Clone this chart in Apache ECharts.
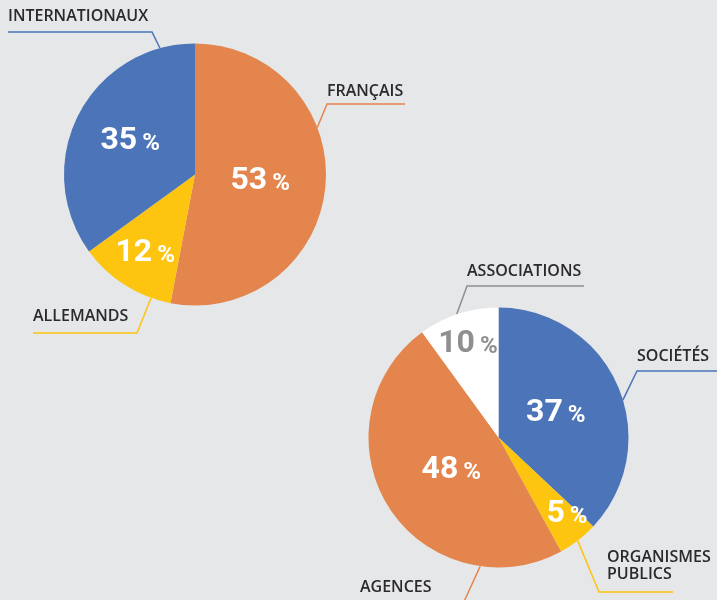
<!DOCTYPE html>
<html lang="fr">
<head>
<meta charset="UTF-8">
<title>Répartition</title>
<script src="https://cdn.jsdelivr.net/npm/echarts@6/dist/echarts.min.js"></script>
<style>
  html, body { margin: 0; padding: 0; background: #e6e7e9; }
  #chart { width: 717px; height: 600px; }
</style>
</head>
<body>
<div id="chart"></div>
<script>
// origine des visiteurs
const origineNoms = ['FRANÇAIS', 'ALLEMANDS', 'INTERNATIONAUX'];
const origineParts = [53, 12, 35];
// type d'exposants
const typeNoms = ['SOCIÉTÉS', 'ORGANISMES PUBLICS', 'AGENCES', 'ASSOCIATIONS'];
const typeParts = [37, 5, 48, 10];

const BLEU = '#4b74b9', ORANGE = '#e3854c', JAUNE = '#fdc50f', BLANC = '#ffffff', GRIS = '#8f8f8f';
const origineCouleurs = [ORANGE, JAUNE, BLEU];
const typeCouleurs = [BLEU, JAUNE, ORANGE, BLANC];

// position des camemberts (px)
const pies = [
    { center: [195, 174.5], r: 131 },
    { center: [498.5, 437.5], r: 130 }
];

// pourcentages : distance au centre (fraction du rayon) et décalage d'angle (degrés)
const origineRayonTexte = [0.5, 0.71, 0.555];
const origineDecalage = [0, 0, 0];
const typeRayonTexte = [0.48, 0.79, 0.44, 0.76];
const typeDecalage = [0, -4, -2, 0];

// étiquettes extérieures : angle du départ sur le bord, coude, fin du trait, position du texte
const origineGuides = [
    { angle: 69, elbow: [327, 104], end: [405, 104], text: [327, 91], color: ORANGE },
    { angle: 199.6, elbow: [137, 333], end: [33, 333], text: [33, 316], color: JAUNE },
    { angle: 344.5, elbow: [152, 32], end: [8, 32], text: [8, 16.5], color: BLEU }
];
const typeGuides = [
    { angle: 73.2, elbow: [637, 371], end: [717, 371], text: [637, 356], color: BLEU },
    { angle: 142.5, elbow: [599, 592], end: [673, 592], text: [607, 566], color: JAUNE },
    { angle: 188.1, elbow: [462, 606], end: [360, 606], text: [360, 587.5], color: ORANGE },
    { angle: 341.2, elbow: [467, 286], end: [584, 286], text: [467, 271], color: GRIS }
];

function innerLayout(k, values, factors, offsets) {
    const total = values.reduce((a, b) => a + b, 0);
    return function (params) {
        const i = params.dataIndex;
        let before = 0;
        for (let j = 0; j < i; j++) before += values[j];
        const mid = (before + values[i] / 2) / total * Math.PI * 2 + offsets[i] * Math.PI / 180;
        const rr = pies[k].r * factors[i];
        return {
            x: pies[k].center[0] + rr * Math.sin(mid),
            y: pies[k].center[1] - rr * Math.cos(mid),
            align: 'center',
            verticalAlign: 'middle'
        };
    };
}

function outerLayout(k, guides) {
    return function (params) {
        const g = guides[params.dataIndex];
        const a = g.angle * Math.PI / 180;
        const edge = [pies[k].center[0] + pies[k].r * Math.sin(a), pies[k].center[1] - pies[k].r * Math.cos(a)];
        return {
            x: g.text[0],
            y: g.text[1],
            align: 'left',
            verticalAlign: 'middle',
            labelLinePoints: [edge, g.elbow, g.end]
        };
    };
}

const pctLabel = {
    show: true,
    position: 'inside',
    color: '#ffffff',
    formatter: p => '{n|' + p.value + '}{p|%}',
    rich: {
        n: { fontFamily: 'Roboto', fontWeight: 'bold', fontSize: 32, lineHeight: 32, verticalAlign: 'bottom' },
        p: { fontFamily: 'Roboto', fontWeight: 'bold', fontSize: 24, lineHeight: 32, verticalAlign: 'bottom', padding: [0, 0, 1, 5] }
    }
};

const nameLabel = {
    show: true,
    position: 'outside',
    color: '#2a2a2c',
    fontFamily: 'Open Sans',
    fontWeight: 600,
    fontSize: 16,
    lineHeight: 17,
    formatter: p => p.name.replace(' ', '\n')
};

function slices(noms, parts, couleurs) {
    return noms.map((n, i) => ({
        name: n,
        value: parts[i],
        itemStyle: { color: couleurs[i] },
        label: couleurs[i] === BLANC ? { color: GRIS } : {}
    }));
}

function guideItems(noms, parts, guides) {
    return noms.map((n, i) => ({
        name: n,
        value: parts[i],
        labelLine: { lineStyle: { color: guides[i].color } }
    }));
}

const chart = echarts.init(document.getElementById('chart'));

const option = {
    backgroundColor: '#e6e7e9',
    animation: false,
    series: [
        {
            type: 'pie',
            center: pies[0].center,
            radius: pies[0].r,
            startAngle: 90,
            silent: true,
            data: slices(origineNoms, origineParts, origineCouleurs),
            label: pctLabel,
            labelLine: { show: false },
            labelLayout: innerLayout(0, origineParts, origineRayonTexte, origineDecalage)
        },
        {
            type: 'pie',
            center: pies[0].center,
            radius: pies[0].r,
            startAngle: 90,
            silent: true,
            avoidLabelOverlap: false,
            itemStyle: { color: 'rgba(0,0,0,0)' },
            data: guideItems(origineNoms, origineParts, origineGuides),
            label: nameLabel,
            labelLine: { show: true, lineStyle: { width: 1.5 } },
            labelLayout: outerLayout(0, origineGuides)
        },
        {
            type: 'pie',
            center: pies[1].center,
            radius: pies[1].r,
            startAngle: 90,
            silent: true,
            data: slices(typeNoms, typeParts, typeCouleurs),
            label: pctLabel,
            labelLine: { show: false },
            labelLayout: innerLayout(1, typeParts, typeRayonTexte, typeDecalage)
        },
        {
            type: 'pie',
            center: pies[1].center,
            radius: pies[1].r,
            startAngle: 90,
            silent: true,
            avoidLabelOverlap: false,
            itemStyle: { color: 'rgba(0,0,0,0)' },
            data: guideItems(typeNoms, typeParts, typeGuides),
            label: nameLabel,
            labelLine: { show: true, lineStyle: { width: 1.5 } },
            labelLayout: outerLayout(1, typeGuides)
        }
    ]
};

chart.setOption(option);
</script>
</body>
</html>
